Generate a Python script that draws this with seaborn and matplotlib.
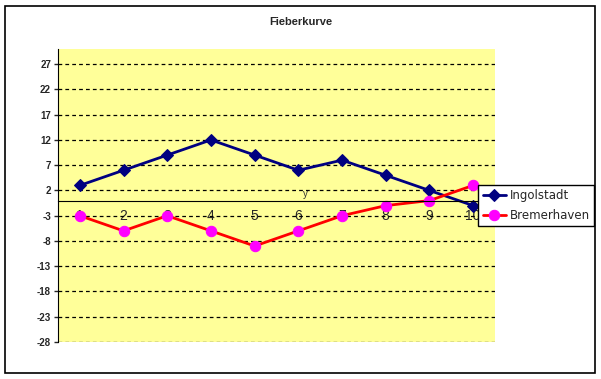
import numpy as np
import pandas as pd
import matplotlib
matplotlib.use("Agg")
import matplotlib.pyplot as plt
from matplotlib.patches import Rectangle
import matplotlib.transforms as mtransforms
import seaborn as sns

# data
days = [1, 2, 3, 4, 5, 6, 7, 8, 9, 10]
ingolstadt = [3, 6, 9, 12, 9, 6, 8, 5, 2, -1]
bremerhaven = [-3, -6, -3, -6, -9, -6, -3, -1, 0, 3]
y_ticks = [27, 22, 17, 12, 7, 2, -3, -8, -13, -18, -23, -28]

df = pd.DataFrame({"Tag": days, "Ingolstadt": ingolstadt, "Bremerhaven": bremerhaven})

sns.set_style("white")
plt.rcParams['font.family'] = ['Liberation Sans', 'DejaVu Sans']

fig = plt.figure(figsize=(6.01, 3.79), dpi=100)
ax = fig.add_axes([58/601, 1-342/379, (495-58)/601, (342-49)/379])
ax.set_facecolor("#FFFF99")

# outer chart border
fig.patches.append(Rectangle((5/601, 6/379), 590/601, 367/379, transform=fig.transFigure,
                             fill=False, edgecolor="black", linewidth=1.2))

sns.lineplot(data=df, x="Tag", y="Ingolstadt", ax=ax, color="#000080", linewidth=2,
             marker="D", markersize=6.5, markeredgecolor="#000080", markerfacecolor="#000080",
             label="Ingolstadt")
sns.lineplot(data=df, x="Tag", y="Bremerhaven", ax=ax, color="#FF0000", linewidth=2,
             marker="o", markersize=7.5, markeredgecolor="#FF00FF", markerfacecolor="#FF00FF",
             label="Bremerhaven")

ax.set_xlim(0.5, 10.5)
ax.set_ylim(-28, 30)
ax.set_yticks(y_ticks)
ax.set_yticklabels([str(v) for v in y_ticks], fontsize=7, fontweight="bold")
ax.yaxis.grid(True, linestyle=(0, (3, 2.5)), color="black", linewidth=0.9)
ax.set_axisbelow(True)

ax.set_xticks(days)
ax.set_xticklabels([str(d) for d in days], fontsize=8, color="#333333")
ax.set_xticks(np.arange(0.5, 11, 1), minor=True)
ax.tick_params(axis="x", which="major", length=0, pad=6)
ax.tick_params(axis="x", which="minor", length=4, direction="out", width=1)
ax.tick_params(axis="y", length=3, direction="out", width=1, left=True, pad=2)

for s in ["top", "right"]:
    ax.spines[s].set_visible(False)
ax.spines["bottom"].set_position(("data", 0))
ax.spines["left"].set_color("black")
ax.spines["bottom"].set_color("black")

ax.set_xlabel("")
ax.set_ylabel("")
# axis title "y" sitting just above the category axis
ax.text((305-58)/(495-58), 0.3, "y", fontsize=7, ha="center", va="bottom", color="#333333",
        transform=mtransforms.blended_transform_factory(ax.transAxes, ax.transData))

fig.text(0.5, 1-22/379, "Fieberkurve", ha="center", va="center", fontsize=8, fontweight="bold")

leg = ax.legend(loc="upper right", bbox_to_anchor=(594/601, 1-185/379), bbox_transform=fig.transFigure,
                frameon=True, fancybox=False, edgecolor="black",
                handlelength=2.0, handletextpad=0.3, borderpad=0.35, labelspacing=0.6,
                borderaxespad=0, prop={"family": "DejaVu Sans", "size": 8.5})
leg.get_frame().set_linewidth(1)
leg.get_frame().set_facecolor("white")
leg.get_frame().set_alpha(1)

fig.savefig("out.png", dpi=100)
